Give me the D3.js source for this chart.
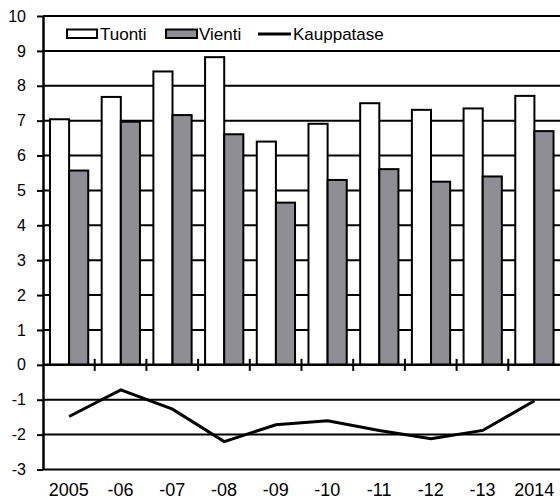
<!DOCTYPE html>
<html>
<head>
<meta charset="utf-8">
<script src="https://cdn.jsdelivr.net/npm/d3@7"></script>
<style>
  body { margin: 0; background: #fff; }
  text { font-family: "Liberation Sans", Arial, sans-serif; fill: #000; }
</style>
</head>
<body>
<script>
//Chart data
const years = ["2005", "-06", "-07", "-08", "-09", "-10", "-11", "-12", "-13", "2014"];
const tuonti = [7.04, 7.68, 8.41, 8.82, 6.40, 6.91, 7.50, 7.31, 7.35, 7.71];
const vienti = [5.57, 6.97, 7.16, 6.61, 4.65, 5.30, 5.61, 5.25, 5.40, 6.70];
const kauppatase = [-1.48, -0.72, -1.27, -2.20, -1.72, -1.60, -1.88, -2.12, -1.88, -1.03];
const yTicks = [-3, -2, -1, 0, 1, 2, 3, 4, 5, 6, 7, 8, 9, 10];

const width = 560, height = 500;
const plotLeft = 43, plotRight = 560, plotTop = 16, plotBottom = 469.5;

const svg = d3.select("body")
    .append("svg")
    .attr("width", width)
    .attr("height", height);

//Scales
const x = d3.scaleBand().domain(years).range([plotLeft, plotRight]).padding(0);
const bw = x.bandwidth();
const x1 = d3.scaleBand().domain(["Tuonti", "Vienti"]).range([bw * 0.135, bw * 0.875]);
const y = d3.scaleLinear().domain([-3, 10]).range([plotBottom, plotTop]);

//Gridlines
svg.append("g")
    .selectAll("line")
    .data(yTicks.filter(d => d !== 0))
    .enter()
    .append("line")
    .attr("x1", plotLeft)
    .attr("x2", plotRight)
    .attr("y1", d => y(d))
    .attr("y2", d => y(d))
    .attr("stroke", "#000")
    .attr("stroke-width", 2);

//Bars
const barData = years.map((yr, i) => [
    {year: yr, key: "Tuonti", value: tuonti[i]},
    {year: yr, key: "Vienti", value: vienti[i]}
]).flat();

svg.append("g")
    .selectAll("rect")
    .data(barData)
    .enter()
    .append("rect")
    .attr("x", d => x(d.year) + x1(d.key))
    .attr("y", d => y(d.value))
    .attr("width", x1.bandwidth())
    .attr("height", d => y(0) - y(d.value))
    .attr("fill", d => d.key === "Tuonti" ? "#fff" : "#8e8e94")
    .attr("stroke", "#000")
    .attr("stroke-width", 2);

//Y axis (plain hyphen for negatives)
const yAxis = d3.axisLeft(y).tickValues(yTicks).tickFormat(d => String(d))
    .tickSize(6).tickSizeOuter(0).tickPadding(11);
const gy = svg.append("g")
    .attr("transform", "translate(" + plotLeft + ",0)")
    .call(yAxis);
gy.select(".domain").attr("stroke", "#000").attr("stroke-width", 2.5);
gy.selectAll(".tick line").attr("stroke", "#000").attr("stroke-width", 2);
gy.selectAll("text").style("font-size", "16px").attr("fill", "#000");

//Zero line with category ticks
svg.append("line")
    .attr("x1", plotLeft)
    .attr("x2", plotRight)
    .attr("y1", y(0))
    .attr("y2", y(0))
    .attr("stroke", "#000")
    .attr("stroke-width", 2.5);

svg.append("g")
    .selectAll("line")
    .data(years.slice(1))
    .enter()
    .append("line")
    .attr("x1", d => x(d))
    .attr("x2", d => x(d))
    .attr("y1", y(0) - 6)
    .attr("y2", y(0) + 6)
    .attr("stroke", "#000")
    .attr("stroke-width", 2);

//X labels at the bottom
const xAxis = d3.axisBottom(x).tickSize(0).tickPadding(14);
const gx = svg.append("g")
    .attr("transform", "translate(0," + plotBottom + ")")
    .call(xAxis);
gx.select(".domain").remove();
gx.selectAll("text").style("font-size", "18px").attr("fill", "#000");

//Kauppatase line
const line = d3.line()
    .x((d, i) => x(years[i]) + x1("Vienti"))
    .y(d => y(d));

svg.append("path")
    .datum(kauppatase)
    .attr("d", line)
    .attr("fill", "none")
    .attr("stroke", "#000")
    .attr("stroke-width", 3);

//Legend
const legend = svg.append("g").style("font-size", "17px");
legend.append("rect").attr("x", 67).attr("y", 29.5).attr("width", 30).attr("height", 8.5)
    .attr("fill", "#fff").attr("stroke", "#000").attr("stroke-width", 2);
legend.append("text").attr("x", 100).attr("y", 39.5).text("Tuonti");
legend.append("rect").attr("x", 166).attr("y", 29.5).attr("width", 31).attr("height", 8.5)
    .attr("fill", "#8e8e94").attr("stroke", "#000").attr("stroke-width", 2);
legend.append("text").attr("x", 199).attr("y", 39.5).text("Vienti");
legend.append("line").attr("x1", 258).attr("x2", 291).attr("y1", 34).attr("y2", 34)
    .attr("stroke", "#000").attr("stroke-width", 3);
legend.append("text").attr("x", 293).attr("y", 39.5).text("Kauppatase");
</script>
</body>
</html>
